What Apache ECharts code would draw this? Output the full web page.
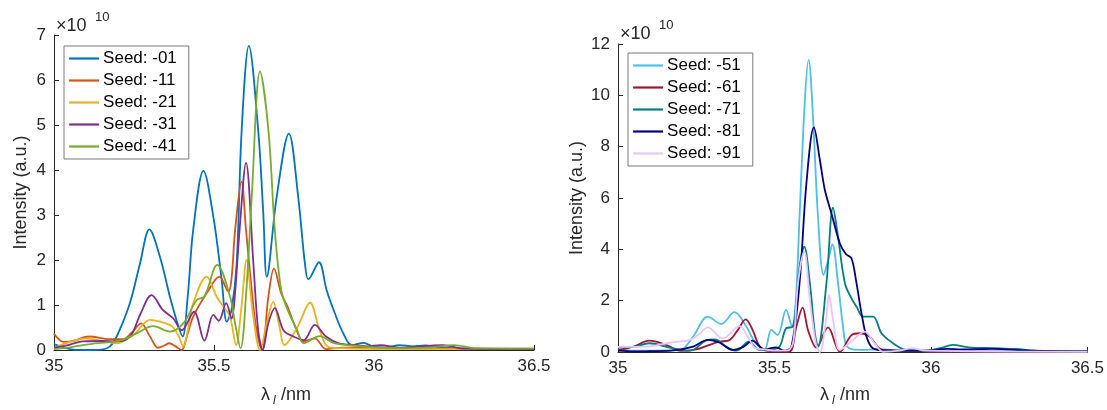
<!DOCTYPE html>
<html><head><meta charset="utf-8">
<script src="https://cdn.jsdelivr.net/npm/echarts@6/dist/echarts.min.js"></script>
<style>html,body{margin:0;padding:0;background:#fff}#c{width:1107px;height:410px}</style>
</head><body><div id="c"></div>
<script>
// x ticks (nm) and y ticks (x 1e10)
const xTicks = [35, 35.5, 36, 36.5];
const leftYTicks = [0, 1, 2, 3, 4, 5, 6, 7];
const rightYTicks = [0, 2, 4, 6, 8, 10, 12];

const leftNames = ['Seed: -01', 'Seed: -11', 'Seed: -21', 'Seed: -31', 'Seed: -41'];
const rightNames = ['Seed: -51', 'Seed: -61', 'Seed: -71', 'Seed: -81', 'Seed: -91'];
const leftColors = ['#0072BD', '#D95319', '#EDB120', '#7E2F8E', '#77AC30'];
const rightColors = ['#4DBEEE', '#A2142F', '#008080', '#000080', '#E6C6FA'];

// [wavelength nm, intensity x1e10]
const s01 = [[35,0.13],[35.03,0.06],[35.06,0.01],[35.1,0],[35.15,0.01],[35.175,0.08],[35.196,0.30],[35.237,1.04],[35.269,1.93],[35.298,2.68],[35.331,2.07],[35.362,1.19],[35.389,0.52],[35.402,0.30],[35.418,1.2],[35.435,2.67],[35.467,3.98],[35.498,2.96],[35.524,1.56],[35.54,0.63],[35.555,0.9],[35.571,1.93],[35.5865,4.89],[35.609,6.76],[35.638,4.89],[35.654,3.04],[35.665,1.63],[35.696,3.41],[35.734,4.81],[35.763,3.41],[35.784,1.93],[35.795,1.57],[35.828,1.95],[35.852,1.33],[35.878,0.81],[35.904,0.37],[35.93,0.11],[35.967,0.16],[36.0,0.07],[36.04,0.06],[36.08,0.11],[36.12,0.08],[36.16,0.1],[36.2,0.06],[36.3,0.03],[36.5,0.02]];
const s11 = [[35,0.36],[35.03,0.18],[35.06,0.2],[35.11,0.30],[35.175,0.24],[35.216,0.24],[35.245,0.4],[35.272,0.59],[35.3,0.3],[35.325,0.05],[35.345,0.1],[35.36,0.15],[35.38,0.08],[35.399,0],[35.415,0.3],[35.435,0.74],[35.477,1.26],[35.517,1.63],[35.545,1.3],[35.555,1.6],[35.566,2.67],[35.586,3.74],[35.6,2.67],[35.62,1.19],[35.633,0.44],[35.65,0],[35.67,1.19],[35.6875,1.81],[35.71,1.26],[35.73,0.96],[35.758,0.44],[35.78,0.19],[35.815,0.26],[35.85,0.02],[35.9,0.05],[36.0,0.05],[36.1,0.03],[36.5,0.03]];
const s21 = [[35,0.05],[35.05,0.18],[35.1,0.26],[35.15,0.2],[35.196,0.15],[35.25,0.35],[35.3,0.67],[35.33,0.63],[35.37,0.52],[35.39,0.3],[35.404,0.07],[35.42,0.5],[35.435,1.04],[35.477,1.63],[35.508,1.19],[35.53,0.96],[35.55,0.74],[35.569,0.11],[35.585,0.9],[35.602,2.0],[35.62,0.9],[35.644,0],[35.665,0.6],[35.685,1.07],[35.705,0.5],[35.72,0.11],[35.76,0.5],[35.80,1.05],[35.83,0.44],[35.857,0.07],[35.9,0.04],[36.0,0.02],[36.5,0.02]];
const s31 = [[35,0.05],[35.05,0.12],[35.09,0.19],[35.15,0.2],[35.196,0.19],[35.2375,0.30],[35.27,0.8],[35.305,1.22],[35.34,0.89],[35.373,0.70],[35.399,0.44],[35.4375,0.85],[35.47,0.21],[35.498,0.78],[35.515,0.65],[35.538,1.04],[35.555,0.7],[35.565,1.2],[35.58,2.67],[35.6,4.16],[35.623,1.93],[35.638,0.44],[35.652,0],[35.67,0.6],[35.69,0.93],[35.717,0.44],[35.748,0.30],[35.78,0.22],[35.815,0.56],[35.85,0.30],[35.89,0.15],[35.946,0.11],[35.98,0.08],[36.02,0.11],[36.08,0.05],[36.215,0.11],[36.28,0.03],[36.5,0.02]];
const s41 = [[35,0.02],[35.05,0.06],[35.09,0.11],[35.15,0.16],[35.196,0.19],[35.23,0.27],[35.258,0.37],[35.31,0.53],[35.3625,0.41],[35.404,0.59],[35.446,1.11],[35.47,1.19],[35.51,1.89],[35.55,1.19],[35.566,0.59],[35.583,0.04],[35.6,1.2],[35.618,3.41],[35.644,6.19],[35.67,4.89],[35.69,2.67],[35.71,1.33],[35.73,0.89],[35.76,0.44],[35.78,0.15],[35.83,0.31],[35.873,0.16],[35.93,0.1],[36.0,0.06],[36.1,0.04],[36.18,0.06],[36.25,0.11],[36.32,0.04],[36.5,0.03]];

const s51 = [[35,0.1],[35.05,0.05],[35.1,0.05],[35.15,0.06],[35.2,0.08],[35.24,0.6],[35.287,1.38],[35.33,1.09],[35.372,1.55],[35.41,0.99],[35.44,0.34],[35.468,0.1],[35.49,0.86],[35.51,0.66],[35.537,1.64],[35.556,0.99],[35.568,2.0],[35.58,5.27],[35.597,9.8],[35.609,11.38],[35.623,9.17],[35.639,5.27],[35.657,3.0],[35.672,3.6],[35.685,4.19],[35.703,2.68],[35.719,0.99],[35.732,0.21],[35.77,0.08],[35.85,0.1],[35.9,0.05],[36,0.03],[36.5,0.02]];
const s61 = [[35,0.08],[35.05,0.21],[35.10,0.44],[35.155,0.27],[35.2,0.04],[35.25,0.1],[35.29,0.27],[35.325,0.40],[35.357,0.47],[35.383,0.86],[35.408,1.27],[35.43,0.86],[35.452,0.21],[35.473,0.05],[35.51,0.02],[35.548,0.02],[35.57,0.99],[35.59,1.73],[35.607,0.86],[35.634,0.17],[35.671,0.96],[35.709,0.01],[35.746,0.66],[35.772,0.73],[35.804,0.6],[35.836,0.14],[35.87,0.06],[35.95,0.04],[36.0,0.02],[36.5,0.01]];
const s71 = [[35,0.18],[35.05,0.2],[35.10,0.34],[35.165,0.17],[35.23,0.05],[35.28,0.44],[35.31,0.49],[35.345,0.21],[35.378,0.05],[35.418,0.40],[35.452,0.08],[35.49,0.1],[35.516,0.21],[35.537,0.92],[35.559,0.99],[35.58,3.32],[35.595,4.1],[35.613,2.68],[35.629,0.73],[35.639,0.21],[35.666,2.68],[35.687,5.62],[35.703,4.49],[35.725,2.68],[35.746,2.09],[35.762,1.77],[35.783,1.38],[35.815,1.38],[35.842,0.73],[35.879,0.34],[35.921,0.08],[35.98,0.05],[36.03,0.15],[36.07,0.28],[36.12,0.18],[36.2,0.15],[36.27,0.12],[36.35,0.04],[36.5,0.03]];
const s81 = [[35,0.05],[35.05,0.02],[35.1,0.03],[35.17,0.05],[35.24,0.21],[35.287,0.47],[35.325,0.36],[35.367,0.08],[35.4,0.2],[35.43,0.44],[35.45,0.25],[35.468,0.1],[35.505,0.18],[35.53,0.05],[35.554,0.21],[35.58,2.68],[35.602,6.57],[35.626,8.75],[35.645,7.48],[35.661,6.31],[35.682,5.4],[35.709,4.23],[35.728,3.82],[35.746,3.65],[35.762,2.68],[35.778,1.51],[35.794,0.6],[35.815,0.14],[35.86,0.06],[35.95,0.05],[36.0,0.06],[36.05,0.12],[36.1,0.1],[36.2,0.12],[36.3,0.06],[36.5,0.02]];
const s91 = [[35,0.2],[35.09,0.21],[35.165,0.36],[35.23,0.47],[35.26,0.7],[35.287,0.96],[35.335,0.53],[35.388,1.01],[35.42,0.47],[35.44,0.14],[35.47,0.1],[35.5,0.05],[35.54,0.05],[35.56,0.4],[35.575,2.68],[35.595,3.91],[35.613,2.03],[35.632,0.34],[35.645,0],[35.666,1.38],[35.674,2.22],[35.689,1.12],[35.709,0.08],[35.751,0.47],[35.788,0.79],[35.82,0.34],[35.847,0.01],[35.9,0.05],[35.94,0.15],[35.98,0.05],[36.5,0.01]];

const leftData = [s01, s11, s21, s31, s41];
const rightData = [s51, s61, s71, s81, s91];

const FONT = 'Liberation Sans, Arial, Helvetica, sans-serif';
const INK = '#262626';

function xAxis(gi) {
  return {
    type: 'value', gridIndex: gi, min: xTicks[0], max: xTicks[xTicks.length - 1], interval: 0.5,
    axisLine: { lineStyle: { color: INK, width: 1 } },
    axisTick: { inside: true, length: 5, lineStyle: { color: INK } },
    axisLabel: { color: INK, fontFamily: FONT, fontSize: 17, margin: 8 },
    splitLine: { show: false }
  };
}
function yAxis(gi, ticks, gap) {
  return {
    type: 'value', gridIndex: gi, min: 0, max: ticks[ticks.length - 1], interval: ticks[1] - ticks[0],
    name: 'Intensity (a.u.)', nameLocation: 'middle', nameGap: gap, nameRotate: 90,
    nameTextStyle: { color: INK, fontFamily: FONT, fontSize: 18 },
    axisLine: { show: true, lineStyle: { color: INK, width: 1 } },
    axisTick: { show: true, inside: true, length: 5, lineStyle: { color: INK } },
    axisLabel: { color: INK, fontFamily: FONT, fontSize: 17, margin: 8 },
    splitLine: { show: false }
  };
}
function mkSeries(names, data, colors, gi) {
  return names.map((n, i) => ({
    name: n, type: 'line', xAxisIndex: gi, yAxisIndex: gi, data: data[i],
    smooth: 0.35, symbol: 'none', lineStyle: { width: 1.8, color: colors[i] },
    itemStyle: { color: colors[i] }, z: 2 + i, animation: false
  }));
}
function legend(names, left, top, pr) {
  return {
    data: names, orient: 'vertical', left: left, top: top,
    itemWidth: 30, itemHeight: 14, itemGap: 5, padding: [4, pr, 4, 4],
    borderColor: '#7a7a7a', borderWidth: 1, backgroundColor: '#fff',
    itemStyle: { opacity: 0, borderWidth: 0 },
    lineStyle: { width: 2.2 },
    textStyle: { color: '#000', fontFamily: FONT, fontSize: 17, padding: [0, 0, 0, -1] },
    selectedMode: false
  };
}
function xlab(cx, y) {
  return [
    { type: 'text', left: cx - 33, top: y, style: { text: 'λ', font: '18px ' + FONT, fill: INK } },
    { type: 'text', left: cx - 21, top: y + 9, style: { text: 'l', font: 'italic 12px ' + FONT, fill: INK } },
    { type: 'text', left: cx - 13, top: y, style: { text: '/nm', font: '18px ' + FONT, fill: INK } }
  ];
}
function expo(x, y) {
  return [
    { type: 'text', left: x, top: y, style: { text: '×10', font: '18px ' + FONT, fill: INK } },
    { type: 'text', left: x + 39, top: y - 6, style: { text: '10', font: '13px ' + FONT, fill: INK } }
  ];
}

const chart = echarts.init(document.getElementById('c'), null, { renderer: 'canvas' });
chart.setOption({
  backgroundColor: '#fff',
  animation: false,
  grid: [
    { left: 54, top: 35, width: 480, height: 315 },
    { left: 618, top: 44, width: 470, height: 308 }
  ],
  xAxis: [xAxis(0), xAxis(1)],
  yAxis: [yAxis(0, leftYTicks, 24), yAxis(1, rightYTicks, 32)],
  legend: [legend(leftNames, 64, 46, 12), legend(rightNames, 628, 53, 12)],
  series: mkSeries(leftNames, leftData, leftColors, 0).concat(mkSeries(rightNames, rightData, rightColors, 1)),
  graphic: [].concat(xlab(294, 386), xlab(853, 386), expo(56, 17), expo(620, 25))
});
</script></body></html>
